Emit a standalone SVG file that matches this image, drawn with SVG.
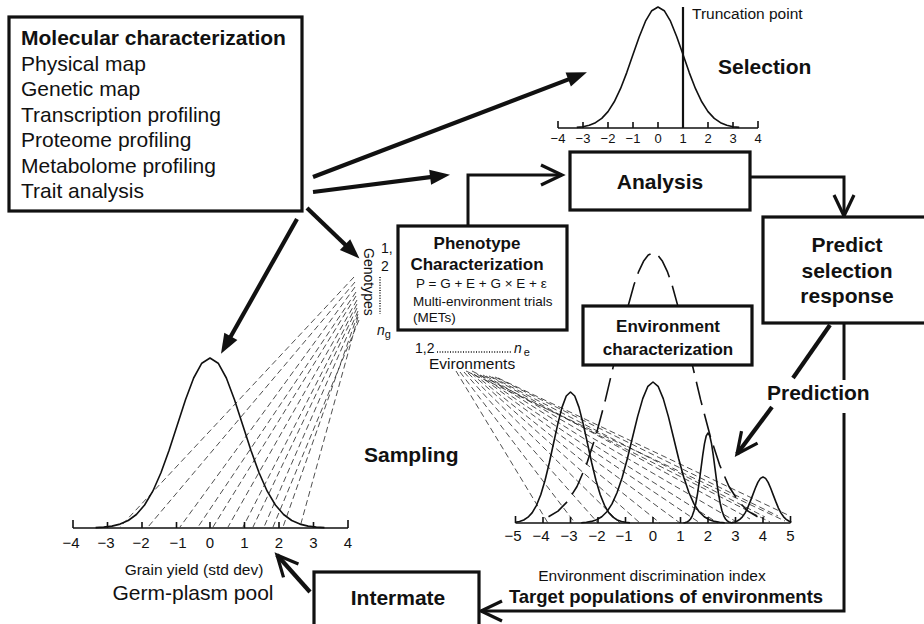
<svg xmlns="http://www.w3.org/2000/svg" width="924" height="624" viewBox="0 0 924 624">
<style>
text{font-family:"Liberation Sans",Arial,sans-serif;fill:#111}
.b{font-weight:bold}
.box{fill:#fff;stroke:#111;stroke-width:3.2}
.curve{fill:none;stroke:#111;stroke-width:1.6;stroke-linejoin:round}
.thin{fill:none;stroke:#111;stroke-width:1.1}
.axis{fill:none;stroke:#111;stroke-width:1.6}
.fan{fill:none;stroke:#222;stroke-width:0.8;stroke-dasharray:6 3.5}
.conn{fill:none;stroke:#111;stroke-width:3}
.thick{fill:none;stroke:#111;stroke-width:4.2}
.tick{font-size:13px;text-anchor:middle}
.tick2{font-size:15px;text-anchor:middle}
.mid{text-anchor:middle}
</style>
<defs>
<marker id="fh" markerUnits="userSpaceOnUse" markerWidth="22" markerHeight="18" refX="8" refY="8" orient="auto" viewBox="0 0 22 18" overflow="visible"><path d="M0,0.5 L20,8 L0,15.5 z" fill="#111"/></marker>
<marker id="oh" markerUnits="userSpaceOnUse" markerWidth="26" markerHeight="24" refX="22" refY="11" orient="auto" viewBox="0 0 26 24" overflow="visible"><path d="M1,1 L22,11 L1,21" fill="none" stroke="#111" stroke-width="3.2"/></marker>
</defs>
<rect x="0" y="0" width="924" height="624" fill="#fff"/>

<g id="selection-plot">
<polyline class="curve" points="576.75,127.4 583,126.7 589.25,125.2 595.5,122.7 601.75,118.4 608,111.6 614.25,101.8 620.5,88.7 626.75,72.6 633,54.6 639.25,36.7 645.5,21.2 651.75,10.7 658,7 664.25,10.7 670.5,21.2 676.75,36.7 683,54.6 689.25,72.6 695.5,88.7 701.75,101.8 708,111.6 714.25,118.4 720.5,122.7 726.75,125.2 733,126.7 739.25,127.4"/>
<path class="axis" d="M558,128 H758 M558,121 V128 M583,122 V128 M608,122 V128 M633,122 V128 M658,122 V128 M708,122 V128 M733,122 V128 M758,121 V128"/>
<line x1="683" y1="7" x2="683" y2="128" stroke="#111" stroke-width="2.2"/>
<text class="tick" x="558" y="143">−4</text><text class="tick" x="583" y="143">−3</text><text class="tick" x="608" y="143">−2</text><text class="tick" x="633" y="143">−1</text><text class="tick" x="658" y="143">0</text><text class="tick" x="683" y="143">1</text><text class="tick" x="708" y="143">2</text><text class="tick" x="733" y="143">3</text><text class="tick" x="758" y="143">4</text>
<text x="692" y="19" font-size="15.5">Truncation point</text>
<text class="b" x="718" y="74" font-size="21">Selection</text>
</g>

<g id="germplasm-plot">
<g id="genotype-fan">
<path class="fan" d="M354,277 L120,527 M355,282 L148,527 M355,287 L180,527 M356,292 L198,527 M356,296 L213,527 M357,300 L228,527 M357,304 L243,527 M357,308 L253,527 M358,311 L264,527 M358,314 L283,527 M358,317 L300,527 M359,320 L273,527"/>
</g>
<polyline class="curve" points="95.6,527.6 103.7,527.1 111.9,526.1 120.1,524.1 128.25,520.5 136.4,514.5 144.6,505 152.8,491.2 160.95,472.8 169.1,450.2 177.3,424.9 185.5,399.7 193.65,378 201.8,363.2 210,358 218.2,363.2 226.35,378 234.5,399.7 242.7,424.9 250.9,450.2 259.05,472.8 267.2,491.2 275.4,505 283.6,514.5 291.75,520.5 299.9,524.1 308.1,526.1 316.3,527.1 324.45,527.6"/>
<path class="axis" d="M73,528 H348 M73,520 V528 M107.5,522 V528 M142,522 V528 M176.5,522 V528 M210,522 V528 M244.5,522 V528 M279,522 V528 M313.5,522 V528 M348,520 V528"/>
<text class="tick2" x="71" y="548">−4</text><text class="tick2" x="106" y="548">−3</text><text class="tick2" x="141" y="548">−2</text><text class="tick2" x="178" y="548">−1</text><text class="tick2" x="210" y="548">0</text><text class="tick2" x="244.5" y="548">1</text><text class="tick2" x="279" y="548">2</text><text class="tick2" x="313.5" y="548">3</text><text class="tick2" x="348" y="548">4</text>
<text class="mid" x="194" y="575" font-size="15.5">Grain yield (std dev)</text>
<text class="mid" x="193" y="600" font-size="21">Germ-plasm pool</text>
</g>

<g id="target-plot">
<g id="environment-fan">
<path class="fan" d="M456,371 L548,523 M460,372 L575,523 M464,372 L598,523 M468,373 L620,523 M471,373 L640,523 M474,374 L660,523 M477,374 L680,523 M480,375 L700,523 M483,375 L718,523 M486,376 L735,521 M489,376 L750,519 M492,377 L765,517 M495,377 L778,516 M498,378 L790,516 M466,371 L785,521 M472,371 L770,522"/>
</g>
<polyline class="curve" stroke-dasharray="24 9" points="548.5,516.8 558,511.1 567.5,501.5 577,486.5 586.5,464.6 596,435.3 605.5,399.4 615,359.2 624.5,319.2 634,284.7 638.75,271.3 643.5,261.3 648.25,255.1 653,253 657.75,255.1 662.5,261.3 667.25,271.3 672,284.7 681.5,319.2 691,359.2 700.5,399.4 710,435.3 719.5,464.6 729,486.5 738.5,501.5 748,511.1 757.5,516.8"/>
<polyline class="curve" points="515.25,522.3 519.5,521.5 523.75,520 528,517.2 532.25,512.6 536.5,505.3 540.75,494.7 545,480.5 549.25,463 553.5,443.5 557.75,424.1 562,407.4 566.25,396 570.5,392 574.75,396 579,407.4 583.25,424.1 587.5,443.5 591.75,463 596,480.5 600.25,494.7 604.5,505.3 608.75,512.6 613,517.2 617.25,520 621.5,521.5 625.75,522.3 630,522.7"/>
<polyline class="curve" points="581.25,522.7 586.4,522.3 591.5,521.4 596.6,519.8 601.75,516.8 606.9,511.8 612,503.9 617.1,492.5 622.25,477.2 627.4,458.5 632.5,437.5 637.6,416.6 642.75,398.6 647.9,386.3 653,382 658.1,386.3 663.25,398.6 668.4,416.6 673.5,437.5 678.6,458.5 683.75,477.2 688.9,492.5 694,503.9 699.1,511.8 704.25,516.8 709.4,519.8 714.5,521.4 719.6,522.3 724.75,522.7"/>
<polyline class="curve" points="683.5,522.8 685.25,522.5 687,522 688.75,520.9 690.5,519 692.25,515.8 694,510.8 695.75,503.5 697.5,493.8 699.25,481.8 701,468.4 702.75,455.1 704.5,443.6 706.25,435.8 708,433 709.75,435.8 711.5,443.6 713.25,455.1 715,468.4 716.75,481.8 718.5,493.8 720.25,503.5 722,510.8 723.75,515.8 725.5,519 727.25,520.9 729,522 730.75,522.5 732.5,522.8"/>
<polyline class="curve" points="732.1,522.5 734.7,522 737.25,521 739.8,519.3 742.4,516.8 745,513.1 747.55,508.1 750.1,501.9 752.7,495.1 755.3,488.3 757.85,482.4 760.4,478.4 763,477 765.6,478.4 768.15,482.4 770.7,488.3 773.3,495.1 775.9,501.9 778.45,508.1 781,513.1 783.6,516.8 786.2,519.3 788.75,521 791.3,522"/>
<path class="axis" d="M515.5,523 H790.5 M515.5,516 V523 M543,517 V523 M570.5,517 V523 M598,517 V523 M625.5,517 V523 M653,517 V523 M680.5,517 V523 M708,517 V523 M735.5,517 V523 M763,517 V523 M790.5,516 V523"/>
<text class="tick2" x="513" y="541">−5</text><text class="tick2" x="541" y="541">−4</text><text class="tick2" x="569" y="541">−3</text><text class="tick2" x="597" y="541">−2</text><text class="tick2" x="624" y="541">−1</text><text class="tick2" x="653" y="541">0</text><text class="tick2" x="680.5" y="541">1</text><text class="tick2" x="708" y="541">2</text><text class="tick2" x="735.5" y="541">3</text><text class="tick2" x="763" y="541">4</text><text class="tick2" x="790.5" y="541">5</text>
<text class="mid" x="652" y="581" font-size="15.5">Environment discrimination index</text>
<text class="b mid" x="666" y="603" font-size="18.5">Target populations of environments</text>
</g>

<g id="connectors">
<line class="thick" x1="313" y1="177" x2="575.7" y2="76.6" marker-end="url(#fh)"/>
<line class="thick" x1="313" y1="192" x2="438.1" y2="176.2" marker-end="url(#fh)"/>
<line class="thick" x1="307" y1="208" x2="350.8" y2="250.1" marker-end="url(#fh)"/>
<line class="thick" x1="297" y1="219" x2="226.9" y2="343.3" marker-end="url(#fh)"/>
<polyline class="conn" points="468,226 468,175 562,175" marker-end="url(#oh)"/>
<polyline class="conn" points="750,177 844,177 844,216" marker-end="url(#oh)"/>
<line class="conn" x1="844" y1="324" x2="844" y2="380"/>
<polyline class="conn" points="844,413 844,611 481,611" marker-end="url(#oh)"/>
<line class="thick" x1="830" y1="325" x2="793" y2="378"/>
<line class="thick" x1="772" y1="407" x2="737" y2="454" marker-end="url(#oh)"/>
<line class="thick" x1="310" y1="592" x2="277" y2="555" marker-end="url(#oh)"/>
</g>

<g id="molecular-characterization">
<rect class="box" x="9" y="17" width="293" height="194" stroke-width="3.6"/>
<text class="b" x="21" y="45" font-size="21">Molecular characterization</text>
<text x="21" y="71" font-size="21">Physical map</text>
<text x="21" y="96" font-size="21">Genetic map</text>
<text x="21" y="122" font-size="21">Transcription profiling</text>
<text x="21" y="147" font-size="21">Proteome profiling</text>
<text x="21" y="173" font-size="21">Metabolome profiling</text>
<text x="21" y="198" font-size="21">Trait analysis</text>
</g>

<g id="analysis">
<rect class="box" x="570" y="152" width="180" height="58"/>
<text class="b mid" x="660" y="189" font-size="21">Analysis</text>
</g>

<g id="predict-selection-response">
<rect class="box" x="763" y="217" width="170" height="106"/>
<text class="b mid" x="847" y="252" font-size="21">Predict</text>
<text class="b mid" x="847" y="278" font-size="21">selection</text>
<text class="b mid" x="847" y="303" font-size="21">response</text>
</g>

<g id="phenotype-characterization">
<rect class="box" x="398" y="226" width="169" height="104"/>
<text class="b mid" x="477" y="249" font-size="17">Phenotype</text>
<text class="b mid" x="477" y="270" font-size="17">Characterization</text>
<text x="416" y="288" font-size="13.5">P = G + E + G × E + ε</text>
<text x="413" y="306" font-size="13.5">Multi-environment trials</text>
<text x="413" y="322" font-size="13.5">(METs)</text>
</g>

<g id="genotypes">
<text transform="translate(364,248) rotate(90)" font-size="14">Genotypes</text>
<text x="381" y="253" font-size="14">1,</text>
<text x="381" y="271" font-size="14">2</text>
<line x1="380" y1="277" x2="380" y2="314" stroke="#111" stroke-width="1.5" stroke-dasharray="1 1.6"/>
<text x="377" y="335" font-size="14"><tspan font-style="italic">n</tspan><tspan font-size="11" dy="3">g</tspan></text>
</g>

<g id="environments">
<text x="415" y="353" font-size="14">1,2</text>
<line x1="437" y1="352" x2="512" y2="352" stroke="#111" stroke-width="1.5" stroke-dasharray="1 1.6"/>
<text x="514" y="353" font-size="14"><tspan font-style="italic">n</tspan><tspan font-size="11" dx="2" dy="3">e</tspan></text>
<text x="429" y="369" font-size="15.5">Evironments</text>
</g>

<g id="environment-characterization">
<rect class="box" x="583" y="306" width="169" height="59"/>
<text class="b mid" x="668" y="332" font-size="17">Environment</text>
<text class="b mid" x="668" y="355" font-size="17">characterization</text>
</g>

<g id="prediction">
<text class="b" x="767" y="400" font-size="21">Prediction</text>
</g>

<g id="sampling">
<text class="b" x="364" y="462" font-size="21">Sampling</text>
</g>

<g id="intermate">
<rect class="box" x="314" y="572" width="165" height="60"/>
<text class="b mid" x="398" y="605" font-size="21">Intermate</text>
</g>
</svg>
